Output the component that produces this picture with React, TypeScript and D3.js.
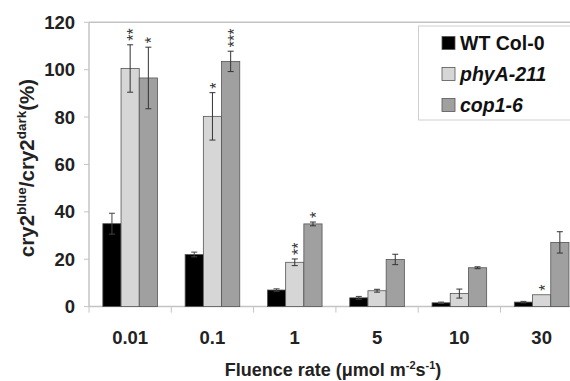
import * as d3 from "d3";
import React from "react";

const categories = ["0.01", "0.1", "1", "5", "10", "30"];
const series = ["WT Col-0", "phyA-211", "cop1-6"];
const wtValues = [35, 22, 7, 3.7, 1.6, 1.9];
const wtErrors = [4.4, 1, 0.5, 0.6, 0.3, 0.3];
const phyaValues = [100.5, 80.3, 18.7, 6.7, 5.5, 5];
const phyaErrors = [10, 10, 1.4, 0.6, 1.9, 0];
const cop1Values = [96.5, 103.5, 34.9, 19.9, 16.4, 27.1];
const cop1Errors = [13, 4.3, 0.8, 2.2, 0.4, 4.5];
const phyaStars = [2, 1, 2, 0, 0, 1];
const cop1Stars = [1, 3, 1, 0, 0, 0];
const yTicks = [0, 20, 40, 60, 80, 100, 120];

const colors = ["#000000", "#d6d6d6", "#a0a0a0"];
const values = [wtValues, phyaValues, cop1Values];
const errors = [wtErrors, phyaErrors, cop1Errors];
const stars = [null, phyaStars, cop1Stars];

const W = 570;
const H = 381;
const left = 89;
const top = 22.3;
const bottom = 306.6;
const font = "Arial, 'Liberation Sans', sans-serif";
const axisColor = "#c4c4c4";

export default function App() {
  const x = d3.scaleBand().domain(categories).range([left, left + 6 * 82.3]);
  const xs = d3
    .scaleBand()
    .domain(series)
    .range([0, x.bandwidth()])
    .paddingInner(0)
    .paddingOuter(0.76);
  const y = d3.scaleLinear().domain([0, 120]).range([bottom, top]);

  return (
    <svg
      width={W}
      height={H}
      style={{ position: "absolute", left: 0, top: 0, background: "#fff" }}
      fontFamily={font}
    >
      <rect width={W} height={H} fill="#fff" />
      {/* top border */}
      <line x1={left} x2={W} y1={top} y2={top} stroke={axisColor} strokeWidth={1.5} />
      {/* y axis */}
      <line x1={left} x2={left} y1={top} y2={bottom} stroke={axisColor} strokeWidth={1.5} />
      {yTicks.map((t) => (
        <g key={t}>
          <line x1={left - 5} x2={left} y1={y(t)} y2={y(t)} stroke={axisColor} />
          <text
            x={75}
            y={y(t)}
            dy="0.36em"
            textAnchor="end"
            fontSize={18.5}
            fontWeight="bold"
            fill="#222"
          >
            {t}
          </text>
        </g>
      ))}
      {/* x axis */}
      <line x1={left} x2={W} y1={bottom} y2={bottom} stroke={axisColor} strokeWidth={1.5} />
      {categories.map((c) => (
        <g key={c}>
          <line
            x1={x(c)!}
            x2={x(c)!}
            y1={bottom}
            y2={bottom + 6}
            stroke={axisColor}
          />
          <text
            x={x(c)! + x.bandwidth() / 2}
            y={344}
            textAnchor="middle"
            fontSize={18.5}
            fontWeight="bold"
            fill="#222"
          >
            {c}
          </text>
        </g>
      ))}
      {/* bars */}
      {series.map((s, si) =>
        categories.map((c, ci) => {
          const v = values[si][ci];
          const e = errors[si][ci];
          const bx = x(c)! + xs(s)!;
          const cx = bx + xs.bandwidth() / 2;
          const n = stars[si] ? stars[si]![ci] : 0;
          return (
            <g key={s + c}>
              <rect
                x={bx}
                y={y(v)}
                width={xs.bandwidth()}
                height={bottom - y(v)}
                fill={colors[si]}
                stroke="#555"
                strokeWidth={0.8}
              />
              {e > 0 && (
                <g stroke={si === 0 ? "#444" : "#333"} strokeWidth={1}>
                  <line x1={cx} x2={cx} y1={y(v + e)} y2={y(Math.max(0, v - e))} />
                  <line x1={cx - 3} x2={cx + 3} y1={y(v + e)} y2={y(v + e)} />
                  <line
                    x1={cx - 3}
                    x2={cx + 3}
                    y1={y(Math.max(0, v - e))}
                    y2={y(Math.max(0, v - e))}
                  />
                </g>
              )}
              {n > 0 && (
                <text
                  transform={`translate(${cx}, ${y(v + e) - 4}) rotate(-90)`}
                  dy="0.57em"
                  fontSize={16}
                  fill="#333"
                >
                  {"*".repeat(n)}
                </text>
              )}
            </g>
          );
        })
      )}
      {/* legend */}
      <rect
        x={418.5}
        y={26}
        width={160}
        height={94}
        fill="#fff"
        stroke="#cfcfcf"
        strokeWidth={1}
      />
      {series.map((s, i) => (
        <g key={s} transform={`translate(442, ${43 + i * 31})`}>
          <rect
            x={0}
            y={-6.5}
            width={13}
            height={13}
            fill={colors[i]}
            stroke="#555"
            strokeWidth={0.8}
          />
          <text
            x={18}
            y={0}
            dy="0.36em"
            fontSize={19.5}
            fontWeight="bold"
            fontStyle={i === 0 ? "normal" : "italic"}
            fill="#111"
          >
            {s}
          </text>
        </g>
      ))}
      {/* y title */}
      <text
        transform="translate(34, 168) rotate(-90)"
        textAnchor="middle"
        fontSize={20.5}
        fontWeight="bold"
        fill="#222"
      >
        cry2
        <tspan fontSize={13.5} dy={-8}>
          blue
        </tspan>
        <tspan dy={8}>/cry2</tspan>
        <tspan fontSize={13.5} dy={-8}>
          dark
        </tspan>
        <tspan dy={8}>(%)</tspan>
      </text>
      {/* x title */}
      <text x={333} y={376} textAnchor="middle" fontSize={18} fontWeight="bold" fill="#222">
        Fluence rate (μmol m
        <tspan fontSize={11} dy={-7}>
          -2
        </tspan>
        <tspan dy={7}>s</tspan>
        <tspan fontSize={11} dy={-7}>
          -1
        </tspan>
        <tspan dy={7}>)</tspan>
      </text>
    </svg>
  );
}
